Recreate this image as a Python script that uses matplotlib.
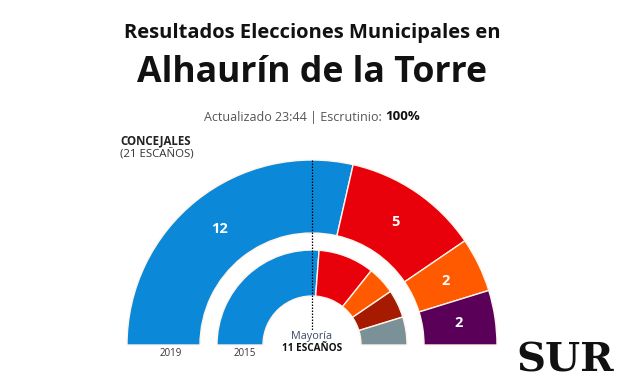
import matplotlib
matplotlib.use("Agg")
import matplotlib.pyplot as plt
from matplotlib.patches import Wedge
import numpy as np

# Data
parties_2019 = ["PP", "PSOE", "Cs", "Adelante"]
seats_2019 = [12, 5, 2, 2]
colors_2019 = ["#0b88d8", "#e8000b", "#ff5a00", "#5a0058"]

parties_2015 = ["PP", "PSOE", "Cs", "IU", "Otros"]
seats_2015 = [11, 4, 2, 2, 2]
colors_2015 = ["#0b88d8", "#e8000b", "#ff5a00", "#a51a00", "#7a9198"]

total_seats = 21
majority = 11
years = ["2019", "2015"]

W, H = 624, 385
fig = plt.figure(figsize=(W / 100, H / 100), dpi=100)
ax = fig.add_axes([0, 0, 1, 1])
ax.set_xlim(0, W)
ax.set_ylim(H, 0)
ax.axis("off")

cx, cy = 312, 345
rings = [
    (seats_2019, colors_2019, 185, 112, True),
    (seats_2015, colors_2015, 95, 49, False),
]

for seats, cols, R, r, lab in rings:
    start = 180.0
    for s, c in zip(seats, cols):
        span = 180.0 * s / total_seats
        end = start - span
        w = Wedge((cx, cy), R, -start, -end, width=R - r, facecolor=c,
                  edgecolor="#fff4ea", linewidth=1.0)
        ax.add_patch(w)
        if lab:
            mid = np.radians((start + end) / 2)
            rm = (R + r) / 2
            ax.text(cx + rm * np.cos(mid), cy - rm * np.sin(mid), str(s),
                    ha="center", va="center", color="white", fontsize=10.5,
                    fontweight="bold", family="Open Sans")
        start = end

# majority line
ax.plot([cx, cx], [160, 330], color="black", linestyle=(0, (1.2, 1.2)), linewidth=0.9)

ax.text(cx, 337, "Mayoría", ha="center", va="center", fontsize=7.8,
        color="#3d4b66", family="Open Sans")
ax.text(cx, 348.5, f"{majority} ESCAÑOS", ha="center", va="center", fontsize=7.2,
        fontweight="bold", color="#111111", family="Open Sans")

ax.text(171, 353.5, years[0], ha="center", va="center", fontsize=7, color="#333333",
        family="Open Sans")
ax.text(245, 353.5, years[1], ha="center", va="center", fontsize=7, color="#333333",
        family="Open Sans")

# titles
ax.text(312, 33, "Resultados Elecciones Municipales en", ha="center", va="center",
        fontsize=14.5, fontweight="bold", color="#111111", family="Open Sans")
ax.text(312, 73, "Alhaurín de la Torre", ha="center", va="center",
        fontsize=25.7, fontweight="bold", color="#111111", family="Open Sans")

# subtitle centered as a whole
fig.canvas.draw()
renderer = fig.canvas.get_renderer()
ta = ax.text(0, 117, "Actualizado 23:44 | Escrutinio: ", ha="left", va="center",
             fontsize=9, color="#555555", family="Open Sans")
tb = ax.text(0, 117, "100%", ha="left", va="center", fontsize=9.5, fontweight="bold",
             color="#111111", family="Open Sans")
wa = ta.get_window_extent(renderer).width
wb = tb.get_window_extent(renderer).width
x0 = 312 - (wa + wb) / 2
ta.set_x(x0)
tb.set_x(x0 + wa)

ax.text(120, 141, "CONCEJALES", ha="left", va="center", fontsize=8.3,
        fontweight="bold", color="#222222", family="Open Sans")
ax.text(120, 155, f"({total_seats} ESCAÑOS)", ha="left", va="center", fontsize=8.2,
        color="#333333", family="Open Sans")

ax.text(565, 361, "SUR", ha="center", va="center", fontsize=29, fontweight="bold",
        color="#111111", family="DejaVu Serif")

fig.savefig("out.png", dpi=100)
